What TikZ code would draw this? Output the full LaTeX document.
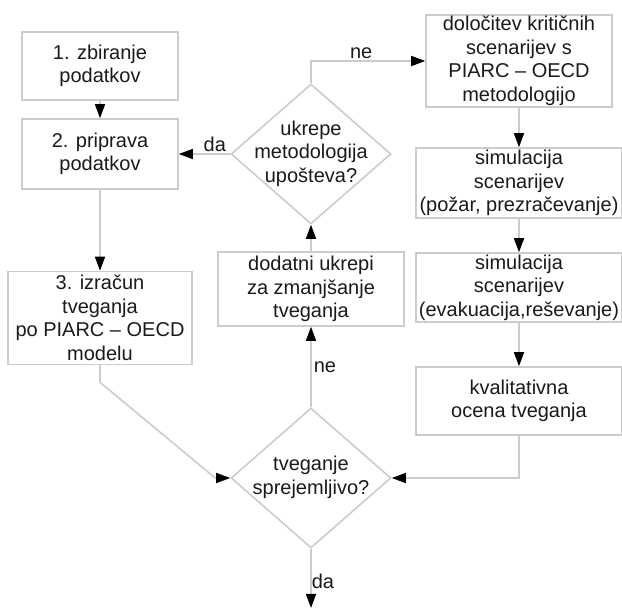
\documentclass[tikz,border=0pt]{standalone}
\usepackage{fontspec}
\setmainfont{Liberation Sans}
\usetikzlibrary{arrows.meta,shapes.geometric}
\definecolor{line}{HTML}{CCCCCC}
\definecolor{ink}{HTML}{1A1A1A}
\tikzset{
  every node/.style={font=\fontsize{20}{23.5}\selectfont,text=ink},
  box/.style={draw=line,line width=1.6pt,fill=white,align=center,inner sep=0pt},
  decision/.style={diamond,draw=line,line width=1.6pt,fill=white,inner sep=0pt,minimum width=160pt,minimum height=140pt},
  arrow/.style={-{Triangle[length=14pt,width=10pt,color=black]},line width=1.6pt,draw=line},
  lbl/.style={inner sep=2pt},
}
\newcommand{\dtext}[1]{\raisebox{-10pt}{\smash{\makebox[0pt]{\begin{tabular}{@{}c@{}}#1\end{tabular}}}}}

\begin{document}
\begin{tikzpicture}[x=1pt,y=-1pt]
\useasboundingbox (0,0) rectangle (622,609);

% left column
\node[box,minimum width=156pt,minimum height=68pt] (zbir) at (100,66) {1. zbiranje\\podatkov};
\node[box,minimum width=156pt,minimum height=70pt] (prip) at (100,154) {2. priprava\\podatkov};
\node[box,minimum width=184pt,minimum height=93pt] (izrac) at (100,318) {3. izračun\\tveganja\\po PIARC – OECD\\modelu};

% middle
\node[decision] (metod) at (311,154) {\dtext{ukrepe\\metodologija\\upošteva?}};
\node[box,minimum width=186pt,minimum height=74pt] (ukrepi) at (311,289) {dodatni ukrepi\\za zmanjšanje\\tveganja};
\node[decision] (sprej) at (311,478) {\dtext{tveganje\\sprejemljivo?}};
\coordinate (konec) at (311,608);

% right column
\node[box,minimum width=186pt,minimum height=92pt] (dolo) at (519,61) {določitev kritičnih\\scenarijev s\\PIARC – OECD\\metodologijo};
\node[box,minimum width=206pt,minimum height=70pt] (simpoz) at (519,183) {simulacija\\scenarijev\\(požar, prezračevanje)};
\node[box,minimum width=206pt,minimum height=69pt] (simevak) at (519,287.5) {simulacija\\scenarijev\\(evakuacija,reševanje)};
\node[box,minimum width=206pt,minimum height=68pt] (ocena) at (519,401) {kvalitativna\\ocena tveganja};

\draw[arrow] (zbir) -- (prip);
\draw[arrow] (prip) -- (izrac);
\draw[arrow] (metod.west) -- node[lbl,pos=0.3,above]{da} (prip.east);
\draw[arrow] (metod.north) |- node[lbl,pos=0.72,above]{ne} (dolo.west);
\draw[arrow] (dolo) -- (simpoz);
\draw[arrow] (simpoz) -- (simevak);
\draw[arrow] (simevak) -- (ocena);
\draw[arrow] (ocena.south) |- (sprej.east);
\draw[arrow] (izrac.south) -- ++(0,17) -- ([xshift=-15pt]sprej.west) -- (sprej.west);
\draw[arrow] (sprej.north) -- node[lbl,pos=0.5,right]{ne} (ukrepi.south);
\draw[arrow] (ukrepi.north) -- (metod.south);
\draw[arrow] (sprej.south) -- node[pos=0.55,right,inner sep=0pt]{da} (konec);

\end{tikzpicture}
\end{document}
